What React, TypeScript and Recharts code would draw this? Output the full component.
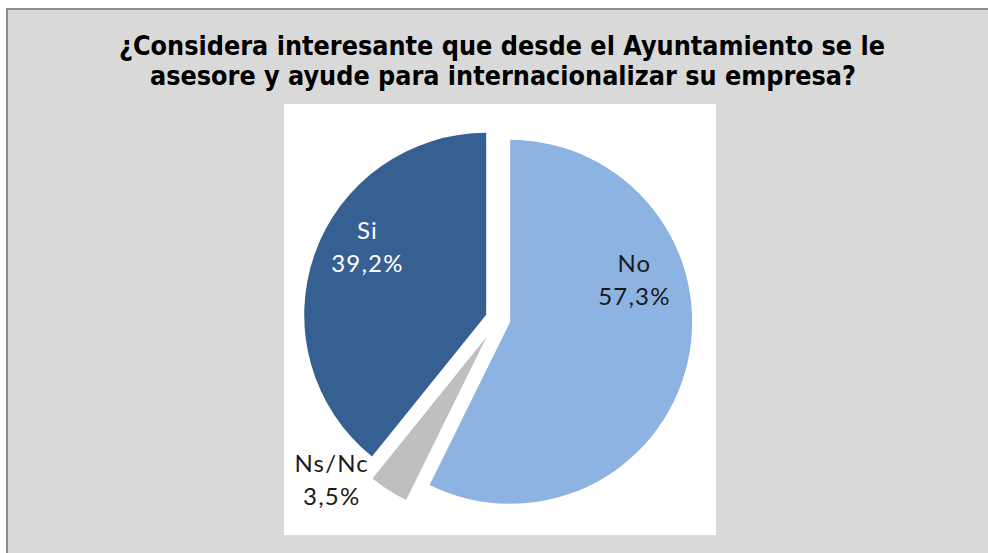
import { PieChart, Pie, Cell, Sector } from 'recharts'

const categories = ['No', 'Ns/Nc', 'Si']
const percentages = [57.3, 3.5, 39.2]
const titleLines = [
  '¿Considera interesante que desde el Ayuntamiento se le',
  'asesore y ayude para internacionalizar su empresa?',
]

const colors: Record<string, string> = { No: '#8db3e2', 'Ns/Nc': '#bfbfbf', Si: '#376092' }
const labelColors: Record<string, string> = { No: '#1a1a1a', 'Ns/Nc': '#1a1a1a', Si: '#ffffff' }
// how far each slice is pulled out of the pie
const explode: Record<string, number> = { No: 12.5, 'Ns/Nc': 21, Si: 12.5 }
// label placement: angle clockwise from 12 o'clock, distance as a fraction of the radius
const labelPlace: Record<string, { angle: number; r: number }> = {
  No: { angle: 74, r: 0.78 },
  'Ns/Nc': { angle: 226, r: 1.27 },
  Si: { angle: 299, r: 0.82 },
}

const data = categories.map((name, i) => ({ name, value: percentages[i] }))

const RADIAN = Math.PI / 180
const fmt = (v: number) => v.toFixed(1).replace('.', ',') + '%'

function ExplodedSector(props: any) {
  const d = explode[props.name] ?? 0
  const dx = d * Math.cos(-props.midAngle * RADIAN)
  const dy = d * Math.sin(-props.midAngle * RADIAN)
  return <Sector {...props} cx={props.cx + dx} cy={props.cy + dy} stroke="none" />
}

function renderLabel(props: any) {
  const { cx, cy, outerRadius, name, value } = props
  const place = labelPlace[name]
  const dist = outerRadius * place.r
  const x = cx + dist * Math.sin(place.angle * RADIAN)
  const y = cy - dist * Math.cos(place.angle * RADIAN)
  return (
    <text
      x={x}
      y={y}
      textAnchor="middle"
      fill={labelColors[name]}
      fontFamily="Lato, 'DejaVu Sans', sans-serif"
      fontSize={24}
      letterSpacing={1.2}
    >
      <tspan x={x} y={y - 8}>{name}</tspan>
      <tspan x={x} y={y + 25}>{fmt(value)}</tspan>
    </text>
  )
}

export default function App() {
  return (
    <div
      style={{
        position: 'absolute',
        left: 0,
        top: 0,
        width: 988,
        height: 553,
        overflow: 'hidden',
        background: '#fff',
      }}
    >
      <div
        style={{
          position: 'absolute',
          left: 6,
          top: 8,
          width: 1000,
          height: 600,
          background: '#d9d9d9',
          borderTop: '2px solid #8c8c8c',
          borderLeft: '2px solid #8c8c8c',
        }}
      />
      <div
        style={{
          position: 'absolute',
          left: 284,
          top: 104,
          width: 432,
          height: 431,
          background: '#fff',
        }}
      />
      <svg
        width={988}
        height={100}
        style={{ position: 'absolute', left: 0, top: 0 }}
      >
        <text
          x={119}
          y={55}
          textLength={766}
          lengthAdjust="spacingAndGlyphs"
          fontFamily="'DejaVu Sans Condensed', 'Liberation Sans Narrow', sans-serif"
          fontWeight="bold"
          fontSize={26}
          fill="#000"
        >
          {titleLines[0]}
        </text>
        <text
          x={150}
          y={85}
          textLength={706}
          lengthAdjust="spacingAndGlyphs"
          fontFamily="'DejaVu Sans Condensed', 'Liberation Sans Narrow', sans-serif"
          fontWeight="bold"
          fontSize={26}
          fill="#000"
        >
          {titleLines[1]}
        </text>
      </svg>
      <div style={{ position: 'absolute', left: 0, top: 0 }}>
        <PieChart width={988} height={553} margin={{ top: 0, right: 0, bottom: 0, left: 0 }}>
          <Pie
            data={data}
            dataKey="value"
            nameKey="name"
            cx={498}
            cy={319}
            outerRadius={182}
            startAngle={90}
            endAngle={-270}
            stroke="none"
            shape={ExplodedSector}
            activeShape={ExplodedSector}
            label={renderLabel}
            labelLine={false}
            isAnimationActive={false}
          >
            {data.map((d) => (
              <Cell key={d.name} fill={colors[d.name]} />
            ))}
          </Pie>
        </PieChart>
      </div>
    </div>
  )
}
